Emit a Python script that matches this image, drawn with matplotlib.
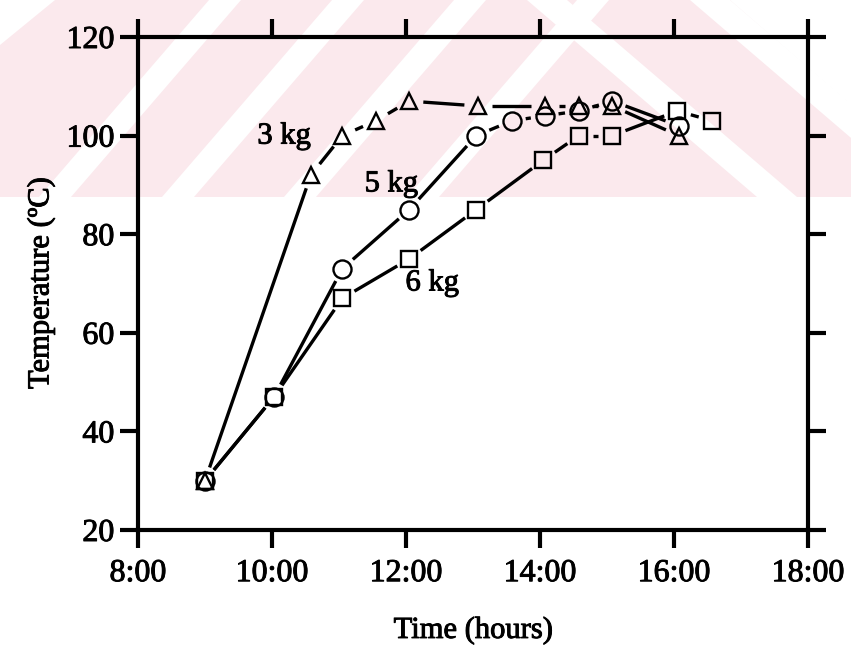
import numpy as np
import matplotlib.pyplot as plt
import matplotlib.patheffects as pe
from matplotlib.patches import Polygon

plt.rcParams['font.family'] = ['Liberation Serif', 'DejaVu Serif']

# Data (time in decimal hours, temperature in degC)
time_3kg = [9.0, 10.58, 11.05, 11.55, 12.05, 13.08, 14.08, 14.58, 15.08, 16.07]
temp_3kg = [30, 92, 100, 103, 107, 106, 106, 106, 106, 100]

time_5kg = [9.0, 10.03, 11.05, 12.05, 13.05, 13.58, 14.07, 14.58, 15.08, 16.07]
temp_5kg = [30, 47, 73, 85, 100, 103, 104, 105, 107, 102]

time_6kg = [9.0, 10.03, 11.05, 12.05, 13.05, 14.05, 14.58, 15.08, 16.05, 16.57]
temp_6kg = [30, 47, 67, 75, 85, 95, 100, 100, 105, 103]

xticks = [8, 10, 12, 14, 16, 18]
xtick_labels = ['8:00', '10:00', '12:00', '14:00', '16:00', '18:00']
yticks = [20, 40, 60, 80, 100, 120]

W, H = 851, 661
fig = plt.figure(figsize=(W / 100, H / 100), dpi=100)

# pale pink watermark band at the top of the scan (pixel coords)
pink = '#fbe9ed'
band_h = 197


def add_poly(pts, color, z):
    pts = [(x / W, 1 - y / H) for x, y in pts]
    fig.patches.append(Polygon(pts, closed=True, transform=fig.transFigure,
                               facecolor=color, edgecolor='none', zorder=z))


add_poly([(0, 0), (W, 0), (W, band_h), (0, band_h)], pink, -10)
# white "/" stripes on the left part
for b in [55, 178, 300, 423]:
    w, dx = 32, 170
    add_poly([(b - w / 2, band_h), (b + w / 2, band_h),
              (b + dx + w / 2, 0), (b + dx - w / 2, 0)], 'white', -9)
# white "\" stripes on the right part
for t, w in [(547, 40), (710, 40)]:
    dx = 230
    add_poly([(t - w / 2, 0), (t + w / 2, 0),
              (t + dx + w / 2, band_h), (t + dx - w / 2, band_h)], 'white', -9)
add_poly([(730, 0), (W, 0), (W, 105)], 'white', -9)
add_poly([(0, 0), (55, 0), (0, 45)], 'white', -9)

ax = fig.add_axes([138 / W, 1 - 530 / H, (808 - 138) / W, (530 - 37) / H])
ax.set_facecolor('none')
ax.set_zorder(1)
ax.set_xlim(8, 18)
ax.set_ylim(20, 120)

series = [
    (time_3kg, temp_3kg, '^', 12),
    (time_5kg, temp_5kg, 'o', 13),
    (time_6kg, temp_6kg, 's', 12),
]

# connecting segments stop short of the markers, as in the original
gap = 14  # pixels
inv = ax.transData.inverted()
for t, v, m, ms in series:
    pts = ax.transData.transform(np.column_stack([t, v]))
    for p0, p1 in zip(pts[:-1], pts[1:]):
        d = p1 - p0
        L = np.hypot(*d)
        if L <= 2 * gap:
            continue
        u = d / L
        a = inv.transform(p0 + u * gap)
        b = inv.transform(p1 - u * gap)
        ax.plot([a[0], b[0]], [a[1], b[1]], color='black', lw=2.4,
                solid_capstyle='butt', zorder=2)
for t, v, m, ms in series:
    ax.plot(t, v, ls='none', marker=m, ms=ms, mfc='none', mec='black', mew=1.7, zorder=4)

thick = [pe.withStroke(linewidth=0.7, foreground='black')]
ax.text(10.18, 99.9, '3 kg', fontsize=22, ha='center', va='center', path_effects=thick)
ax.text(11.78, 90.2, '5 kg', fontsize=22, ha='center', va='center', path_effects=thick)
ax.text(12.39, 70.1, '6 kg', fontsize=22, ha='center', va='center', path_effects=thick)

ax.set_xticks(xticks)
ax.set_xticklabels(xtick_labels)
ax.set_yticks(yticks)

for sp in ax.spines.values():
    sp.set_linewidth(3)
ax.tick_params(axis='both', direction='out', length=13, width=3, labelsize=23,
               top=True, right=True)
ax.tick_params(axis='x', pad=8)
ax.tick_params(axis='y', pad=4)
for lab in ax.get_xticklabels() + ax.get_yticklabels():
    lab.set_path_effects(thick)

ax.set_xlabel('Time (hours)', fontsize=22, labelpad=20, path_effects=thick)
ax.set_ylabel('Temperature (ºC)', fontsize=22, labelpad=8, path_effects=thick)

fig.savefig('out.png', dpi=100)
